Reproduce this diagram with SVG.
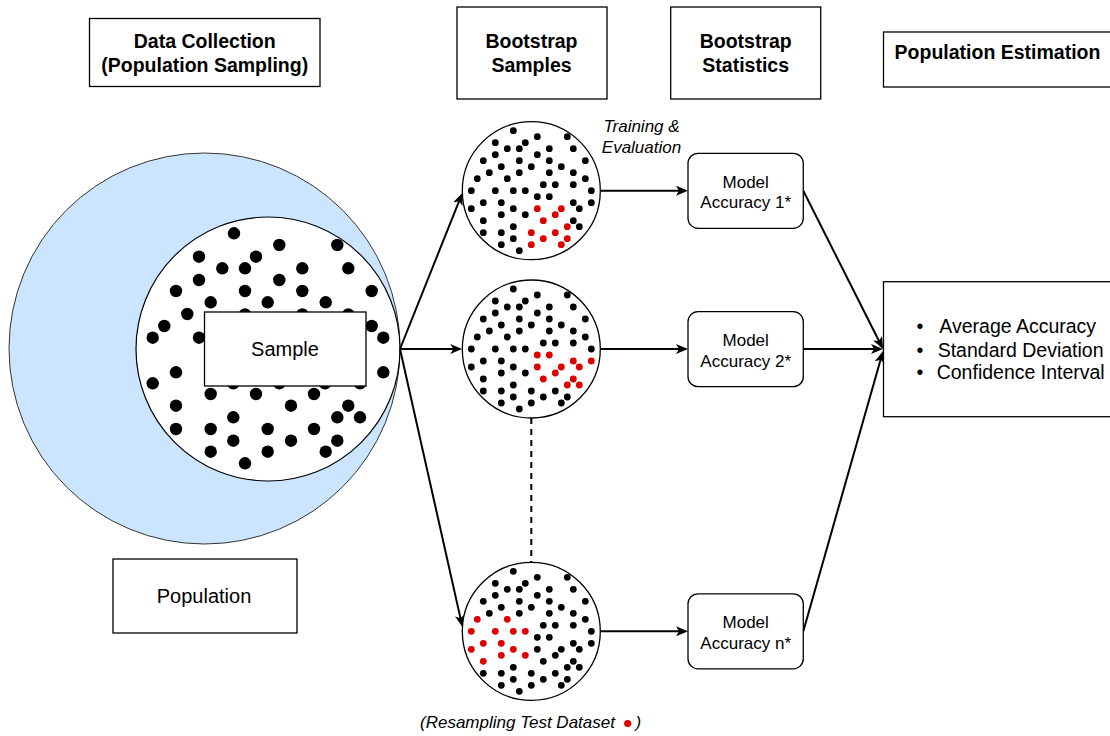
<svg xmlns="http://www.w3.org/2000/svg" width="1110" height="736" viewBox="0 0 1110 736">
<style>
.box{fill:#fff;stroke:#000;stroke-width:1.3}
.hdr{font:bold 19.5px "Liberation Sans",Arial,sans-serif;text-anchor:middle;fill:#000}
.lbl{font:20px "Liberation Sans",Arial,sans-serif;text-anchor:middle;fill:#000}
.mdl{font:17px "Liberation Sans",Arial,sans-serif;text-anchor:middle;fill:#000}
.blt{font:19.5px "Liberation Sans",Arial,sans-serif;fill:#000}
.it{font:italic 17px "Liberation Sans",Arial,sans-serif;fill:#000}
.conn{stroke:#000;stroke-width:2;fill:none}
.d{fill:#000}
.r{fill:#dd0000}
.sc{fill:#fff;stroke:#000;stroke-width:1.3}
</style>
<defs>
<marker id="ah" viewBox="0 0 12 10" markerUnits="userSpaceOnUse" markerWidth="12" markerHeight="10" refX="9" refY="5" orient="auto">
<path d="M0,0 L12,5 L0,10 L3,5 Z" fill="#000"/>
</marker>
</defs>

<g id="hdr-data">
<rect class="box" x="89.5" y="18.5" width="230.5" height="68"/>
<text class="hdr" x="204.7" y="47.7">Data Collection</text>
<text class="hdr" x="204.7" y="71.7">(Population Sampling)</text>
</g>
<g id="hdr-samples">
<rect class="box" x="457" y="7" width="150" height="92"/>
<text class="hdr" x="531.5" y="48.3">Bootstrap</text>
<text class="hdr" x="531.5" y="71.7">Samples</text>
</g>
<g id="hdr-stats">
<rect class="box" x="670.7" y="7" width="150" height="92"/>
<text class="hdr" x="745.7" y="48.3">Bootstrap</text>
<text class="hdr" x="745.7" y="71.7">Statistics</text>
</g>
<g id="hdr-est">
<rect class="box" x="883.5" y="32" width="230" height="55"/>
<text class="hdr" x="997.5" y="59">Population Estimation</text>
</g>

<g id="population-circle">
<circle cx="204.5" cy="348.5" r="195.5" fill="#cce5ff" stroke="#333" stroke-width="1"/>
</g>
<g id="sample-circle">
<circle cx="268" cy="349" r="132" fill="#fff" stroke="#000" stroke-width="1.2"/>
<g class="d">
<circle cx="234" cy="233.3" r="6.2"/><circle cx="279.3" cy="245" r="6.2"/><circle cx="337.3" cy="245" r="6.2"/>
<circle cx="199" cy="256.7" r="6.2"/><circle cx="256" cy="256.7" r="6.2"/><circle cx="222.3" cy="268.3" r="6.2"/>
<circle cx="245" cy="268.3" r="6.2"/><circle cx="302.3" cy="268.3" r="6.2"/><circle cx="348.3" cy="268.3" r="6.2"/>
<circle cx="199" cy="280" r="6.2"/><circle cx="279.3" cy="280" r="6.2"/><circle cx="176" cy="291" r="6.2"/>
<circle cx="245" cy="291" r="6.2"/><circle cx="302.3" cy="291" r="6.2"/><circle cx="371.7" cy="291" r="6.2"/>
<circle cx="210.7" cy="302.3" r="6.2"/><circle cx="267.7" cy="302.3" r="6.2"/><circle cx="325.7" cy="302.3" r="6.2"/>
<circle cx="187.3" cy="314" r="6.2"/><circle cx="245" cy="314.5" r="6.2"/><circle cx="302.3" cy="314.5" r="6.2"/>
<circle cx="348.3" cy="314.5" r="6.2"/><circle cx="164.3" cy="326" r="6.2"/><circle cx="371.7" cy="326" r="6.2"/>
<circle cx="152.7" cy="337.7" r="6.2"/><circle cx="199" cy="337.7" r="6.2"/><circle cx="383.3" cy="337.7" r="6.2"/>
<circle cx="176" cy="372.3" r="6.2"/><circle cx="383.3" cy="372.3" r="6.2"/><circle cx="152.7" cy="383.3" r="6.2"/>
<circle cx="233.3" cy="383.3" r="6.2"/><circle cx="279.3" cy="383.3" r="6.2"/><circle cx="325" cy="383.3" r="6.2"/>
<circle cx="360" cy="383.3" r="6.2"/><circle cx="210.7" cy="394" r="6.2"/><circle cx="256" cy="394" r="6.2"/>
<circle cx="314" cy="394" r="6.2"/><circle cx="176" cy="405.7" r="6.2"/><circle cx="291" cy="405.7" r="6.2"/>
<circle cx="348.3" cy="405.7" r="6.2"/><circle cx="233.3" cy="417.3" r="6.2"/><circle cx="337.3" cy="417.3" r="6.2"/>
<circle cx="360" cy="417.3" r="6.2"/><circle cx="176" cy="429" r="6.2"/><circle cx="210.7" cy="429" r="6.2"/>
<circle cx="267.7" cy="429" r="6.2"/><circle cx="314" cy="429" r="6.2"/><circle cx="233.3" cy="440.7" r="6.2"/>
<circle cx="291" cy="440.7" r="6.2"/><circle cx="337.3" cy="440.7" r="6.2"/><circle cx="210.7" cy="451.7" r="6.2"/>
<circle cx="267.7" cy="451.7" r="6.2"/><circle cx="325.7" cy="451.7" r="6.2"/><circle cx="245" cy="463.3" r="6.2"/>
</g>
</g>
<g id="sample">
<rect class="box" x="204.5" y="312" width="161.5" height="74"/>
<text class="lbl" x="285" y="356">Sample</text>
</g>
<g id="population">
<rect class="box" x="113" y="559" width="184" height="74"/>
<text class="lbl" x="204" y="603.3">Population</text>
</g>

<g id="connectors">
<line class="conn" x1="400" y1="349" x2="461.2" y2="195.8" marker-end="url(#ah)"/>
<line class="conn" x1="400" y1="349" x2="459.3" y2="349" marker-end="url(#ah)"/>
<line class="conn" x1="400" y1="349" x2="461.8" y2="624.1" marker-end="url(#ah)"/>
<line class="conn" x1="600.7" y1="190.7" x2="685" y2="190.7" marker-end="url(#ah)"/>
<line class="conn" x1="600.7" y1="349" x2="685" y2="349" marker-end="url(#ah)"/>
<line class="conn" x1="600.7" y1="631.3" x2="685" y2="631.3" marker-end="url(#ah)"/>
<line class="conn" x1="803.3" y1="190.7" x2="881.65" y2="346.3" marker-end="url(#ah)"/>
<line class="conn" x1="803.3" y1="349" x2="880" y2="349" marker-end="url(#ah)"/>
<line class="conn" x1="803.3" y1="631.3" x2="882.2" y2="353.9" marker-end="url(#ah)"/>
<line class="conn" x1="531.3" y1="418" x2="531.3" y2="562.3" stroke-dasharray="6,5"/>
</g>

<g id="bs1" transform="translate(531.3,190.7)">
<circle class="sc" r="69"/>
<g class="d">
<circle cx="-18" cy="-60" r="3.4"/><circle cx="6" cy="-54" r="3.4"/><circle cx="36" cy="-54" r="3.4"/>
<circle cx="-36" cy="-48" r="3.4"/><circle cx="-6" cy="-48" r="3.4"/><circle cx="-24" cy="-42" r="3.4"/>
<circle cx="-12" cy="-42" r="3.4"/><circle cx="18" cy="-42" r="3.4"/><circle cx="42" cy="-42" r="3.4"/>
<circle cx="-36" cy="-36" r="3.4"/><circle cx="6" cy="-36" r="3.4"/><circle cx="-48" cy="-30" r="3.4"/>
<circle cx="-12" cy="-30" r="3.4"/><circle cx="18" cy="-30" r="3.4"/><circle cx="54" cy="-30" r="3.4"/>
<circle cx="-30" cy="-24" r="3.4"/><circle cx="0" cy="-24" r="3.4"/><circle cx="30" cy="-24" r="3.4"/>
<circle cx="-42" cy="-18" r="3.4"/><circle cx="-12" cy="-18" r="3.4"/><circle cx="18" cy="-18" r="3.4"/>
<circle cx="42" cy="-18" r="3.4"/><circle cx="-54" cy="-12" r="3.4"/><circle cx="-24" cy="-12" r="3.4"/>
<circle cx="54" cy="-12" r="3.4"/><circle cx="12" cy="-6" r="3.4"/><circle cx="24" cy="-6" r="3.4"/>
<circle cx="42" cy="-6" r="3.4"/><circle cx="-60" cy="0" r="3.4"/><circle cx="-36" cy="0" r="3.4"/>
<circle cx="-18" cy="0" r="3.4"/><circle cx="-6" cy="0" r="3.4"/><circle cx="60" cy="0" r="3.4"/>
<circle cx="6" cy="6" r="3.4"/><circle cx="18" cy="6" r="3.4"/><circle cx="-48" cy="12" r="3.4"/>
<circle cx="-30" cy="12" r="3.4"/><circle cx="42" cy="12" r="3.4"/><circle cx="60" cy="12" r="3.4"/>
<circle cx="-60" cy="18" r="3.4"/><circle cx="-18" cy="18" r="3.4"/><circle cx="48" cy="18" r="3.4"/>
<circle cx="-30" cy="24" r="3.4"/><circle cx="-6" cy="24" r="3.4"/><circle cx="-48" cy="30" r="3.4"/>
<circle cx="42" cy="30" r="3.4"/><circle cx="-18" cy="36" r="3.4"/><circle cx="48" cy="36" r="3.4"/>
<circle cx="-48" cy="42" r="3.4"/><circle cx="-30" cy="42" r="3.4"/><circle cx="-18" cy="48" r="3.4"/>
<circle cx="-30" cy="54" r="3.4"/><circle cx="-12" cy="60" r="3.4"/>
</g>
<g class="r">
<circle cx="6" cy="18" r="3.4"/><circle cx="30" cy="18" r="3.4"/><circle cx="24" cy="24" r="3.4"/>
<circle cx="12" cy="30" r="3.4"/><circle cx="36" cy="36" r="3.4"/><circle cx="0" cy="42" r="3.4"/>
<circle cx="24" cy="42" r="3.4"/><circle cx="12" cy="48" r="3.4"/><circle cx="36" cy="48" r="3.4"/>
<circle cx="0" cy="54" r="3.4"/><circle cx="30" cy="54" r="3.4"/>
</g>
</g>

<g id="bs2" transform="translate(531.3,349)">
<circle class="sc" r="69"/>
<g class="d">
<circle cx="-18" cy="-60" r="3.4"/><circle cx="6" cy="-54" r="3.4"/><circle cx="36" cy="-54" r="3.4"/>
<circle cx="-36" cy="-48" r="3.4"/><circle cx="-6" cy="-48" r="3.4"/><circle cx="-24" cy="-42" r="3.4"/>
<circle cx="-12" cy="-42" r="3.4"/><circle cx="18" cy="-42" r="3.4"/><circle cx="42" cy="-42" r="3.4"/>
<circle cx="-36" cy="-36" r="3.4"/><circle cx="6" cy="-36" r="3.4"/><circle cx="-48" cy="-30" r="3.4"/>
<circle cx="-12" cy="-30" r="3.4"/><circle cx="18" cy="-30" r="3.4"/><circle cx="54" cy="-30" r="3.4"/>
<circle cx="-30" cy="-24" r="3.4"/><circle cx="0" cy="-24" r="3.4"/><circle cx="30" cy="-24" r="3.4"/>
<circle cx="-42" cy="-18" r="3.4"/><circle cx="-12" cy="-18" r="3.4"/><circle cx="18" cy="-18" r="3.4"/>
<circle cx="42" cy="-18" r="3.4"/><circle cx="-54" cy="-12" r="3.4"/><circle cx="-24" cy="-12" r="3.4"/>
<circle cx="54" cy="-12" r="3.4"/><circle cx="12" cy="-6" r="3.4"/><circle cx="24" cy="-6" r="3.4"/>
<circle cx="42" cy="-6" r="3.4"/><circle cx="-60" cy="0" r="3.4"/><circle cx="-36" cy="0" r="3.4"/>
<circle cx="-18" cy="0" r="3.4"/><circle cx="-6" cy="0" r="3.4"/><circle cx="60" cy="0" r="3.4"/>
<circle cx="-48" cy="12" r="3.4"/><circle cx="-30" cy="12" r="3.4"/>
<circle cx="-60" cy="18" r="3.4"/><circle cx="-18" cy="18" r="3.4"/>
<circle cx="-30" cy="24" r="3.4"/><circle cx="-6" cy="24" r="3.4"/><circle cx="-48" cy="30" r="3.4"/>
<circle cx="-18" cy="36" r="3.4"/>
<circle cx="-48" cy="42" r="3.4"/><circle cx="-30" cy="42" r="3.4"/><circle cx="0" cy="42" r="3.4"/><circle cx="24" cy="42" r="3.4"/>
<circle cx="-18" cy="48" r="3.4"/><circle cx="12" cy="48" r="3.4"/><circle cx="36" cy="48" r="3.4"/>
<circle cx="-30" cy="54" r="3.4"/><circle cx="0" cy="54" r="3.4"/><circle cx="30" cy="54" r="3.4"/>
<circle cx="-12" cy="60" r="3.4"/>
</g>
<g class="r">
<circle cx="6" cy="6" r="3.4"/><circle cx="18" cy="6" r="3.4"/><circle cx="42" cy="12" r="3.4"/>
<circle cx="60" cy="12" r="3.4"/><circle cx="6" cy="18" r="3.4"/><circle cx="30" cy="18" r="3.4"/>
<circle cx="48" cy="18" r="3.4"/><circle cx="24" cy="24" r="3.4"/><circle cx="12" cy="30" r="3.4"/>
<circle cx="42" cy="30" r="3.4"/><circle cx="36" cy="36" r="3.4"/><circle cx="48" cy="36" r="3.4"/>
</g>
</g>

<g id="bs3" transform="translate(531.3,631.3)">
<circle class="sc" r="69"/>
<g class="d">
<circle cx="-18" cy="-60" r="3.4"/><circle cx="6" cy="-54" r="3.4"/><circle cx="36" cy="-54" r="3.4"/>
<circle cx="-36" cy="-48" r="3.4"/><circle cx="-6" cy="-48" r="3.4"/><circle cx="-24" cy="-42" r="3.4"/>
<circle cx="-12" cy="-42" r="3.4"/><circle cx="18" cy="-42" r="3.4"/><circle cx="42" cy="-42" r="3.4"/>
<circle cx="-36" cy="-36" r="3.4"/><circle cx="6" cy="-36" r="3.4"/><circle cx="-48" cy="-30" r="3.4"/>
<circle cx="-12" cy="-30" r="3.4"/><circle cx="18" cy="-30" r="3.4"/><circle cx="54" cy="-30" r="3.4"/>
<circle cx="-30" cy="-24" r="3.4"/><circle cx="0" cy="-24" r="3.4"/><circle cx="30" cy="-24" r="3.4"/>
<circle cx="-42" cy="-18" r="3.4"/><circle cx="-12" cy="-18" r="3.4"/><circle cx="18" cy="-18" r="3.4"/>
<circle cx="42" cy="-18" r="3.4"/><circle cx="54" cy="-12" r="3.4"/><circle cx="12" cy="-6" r="3.4"/>
<circle cx="24" cy="-6" r="3.4"/><circle cx="42" cy="-6" r="3.4"/><circle cx="60" cy="0" r="3.4"/>
<circle cx="6" cy="6" r="3.4"/><circle cx="18" cy="6" r="3.4"/><circle cx="42" cy="12" r="3.4"/>
<circle cx="60" cy="12" r="3.4"/><circle cx="6" cy="18" r="3.4"/><circle cx="30" cy="18" r="3.4"/>
<circle cx="48" cy="18" r="3.4"/><circle cx="24" cy="24" r="3.4"/><circle cx="12" cy="30" r="3.4"/>
<circle cx="42" cy="30" r="3.4"/><circle cx="-18" cy="36" r="3.4"/><circle cx="36" cy="36" r="3.4"/>
<circle cx="48" cy="36" r="3.4"/><circle cx="-48" cy="42" r="3.4"/><circle cx="-30" cy="42" r="3.4"/>
<circle cx="0" cy="42" r="3.4"/><circle cx="24" cy="42" r="3.4"/><circle cx="-18" cy="48" r="3.4"/>
<circle cx="12" cy="48" r="3.4"/><circle cx="36" cy="48" r="3.4"/><circle cx="-30" cy="54" r="3.4"/>
<circle cx="0" cy="54" r="3.4"/><circle cx="30" cy="54" r="3.4"/><circle cx="-12" cy="60" r="3.4"/>
</g>
<g class="r">
<circle cx="-54" cy="-12" r="3.4"/><circle cx="-24" cy="-12" r="3.4"/><circle cx="-60" cy="0" r="3.4"/>
<circle cx="-36" cy="0" r="3.4"/><circle cx="-18" cy="0" r="3.4"/><circle cx="-6" cy="0" r="3.4"/>
<circle cx="-48" cy="12" r="3.4"/><circle cx="-30" cy="12" r="3.4"/><circle cx="-60" cy="18" r="3.4"/>
<circle cx="-18" cy="18" r="3.4"/><circle cx="-30" cy="24" r="3.4"/><circle cx="-6" cy="24" r="3.4"/>
<circle cx="-48" cy="30" r="3.4"/>
</g>
</g>

<g id="train-label">
<text class="it" text-anchor="middle" x="641.5" y="132.3">Training &amp;</text>
<text class="it" text-anchor="middle" x="641.5" y="153.3">Evaluation</text>
</g>

<g id="acc1">
<rect class="box" x="688" y="153.3" width="115.3" height="75" rx="10"/>
<text class="mdl" x="745.7" y="187.7">Model</text>
<text class="mdl" x="745.7" y="208.3">Accuracy 1*</text>
</g>
<g id="acc2">
<rect class="box" x="688" y="311.7" width="115.3" height="75" rx="10"/>
<text class="mdl" x="745.7" y="346">Model</text>
<text class="mdl" x="745.7" y="366.6">Accuracy 2*</text>
</g>
<g id="acc3">
<rect class="box" x="688" y="593.8" width="115.3" height="75" rx="10"/>
<text class="mdl" x="745.7" y="628.3">Model</text>
<text class="mdl" x="745.7" y="649">Accuracy n*</text>
</g>

<g id="estimation">
<rect class="box" x="883.5" y="281.7" width="230" height="135"/>
<text class="blt" x="920" y="333.3" text-anchor="middle">•</text>
<text class="blt" x="939.3" y="333.3">Average Accuracy</text>
<text class="blt" x="920" y="356.7" text-anchor="middle">•</text>
<text class="blt" x="937.7" y="356.7">Standard Deviation</text>
<text class="blt" x="920" y="379.3" text-anchor="middle">•</text>
<text class="blt" x="936.7" y="379.3">Confidence Interval</text>
</g>

<g id="resampling-note">
<text class="it" x="420" y="728">(Resampling Test Dataset <tspan x="635.5">)</tspan></text>
<circle class="r" cx="627.7" cy="723.5" r="3.6"/>
</g>
</svg>
